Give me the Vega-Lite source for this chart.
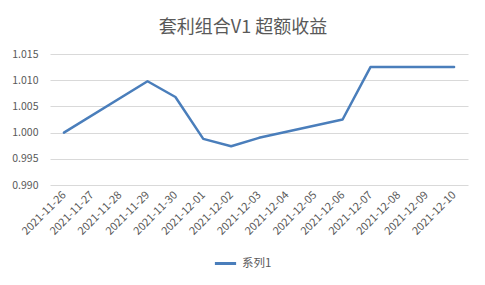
{
  "$schema": "https://vega.github.io/schema/vega-lite/v6.json",
  "width": 418,
  "height": 131,
  "autosize": {"type": "none"},
  "padding": {"left": 50, "top": 54, "right": 17, "bottom": 100},
  "background": "white",
  "title": {
    "text": "套利组合V1 超额收益",
    "anchor": "middle",
    "dx": -16,
    "offset": 12,
    "font": "Noto Sans CJK SC",
    "fontSize": 18,
    "fontWeight": "normal",
    "color": "#595959"
  },
  "data": {
    "values": [
      {"date": "2021-11-26", "value": 1.0000, "series": "系列1"},
      {"date": "2021-11-29", "value": 1.0098, "series": "系列1"},
      {"date": "2021-11-30", "value": 1.0068, "series": "系列1"},
      {"date": "2021-12-01", "value": 0.9988, "series": "系列1"},
      {"date": "2021-12-02", "value": 0.9974, "series": "系列1"},
      {"date": "2021-12-03", "value": 0.9990, "series": "系列1"},
      {"date": "2021-12-06", "value": 1.0025, "series": "系列1"},
      {"date": "2021-12-07", "value": 1.0125, "series": "系列1"},
      {"date": "2021-12-08", "value": 1.0125, "series": "系列1"},
      {"date": "2021-12-09", "value": 1.0125, "series": "系列1"},
      {"date": "2021-12-10", "value": 1.0125, "series": "系列1"}
    ]
  },
  "mark": {"type": "line", "strokeWidth": 2.5, "strokeCap": "round", "strokeJoin": "round"},
  "encoding": {
    "x": {
      "field": "date",
      "type": "ordinal",
      "sort": null,
      "scale": {
        "domain": ["2021-11-26","2021-11-27","2021-11-28","2021-11-29","2021-11-30","2021-12-01","2021-12-02","2021-12-03","2021-12-04","2021-12-05","2021-12-06","2021-12-07","2021-12-08","2021-12-09","2021-12-10"],
        "type": "point",
        "padding": 0.5
      },
      "axis": {
        "title": null,
        "labelAngle": -45,
        "labelAlign": "right",
        "labelBaseline": "middle",
        "labelFont": "Noto Sans CJK SC",
        "labelFontSize": 11,
        "labelColor": "#595959",
        "labelPadding": 8,
        "ticks": false,
        "domain": false,
        "grid": false
      }
    },
    "y": {
      "field": "value",
      "type": "quantitative",
      "scale": {"domain": [0.99, 1.015], "zero": false, "nice": false},
      "axis": {
        "title": null,
        "values": [0.99, 0.995, 1.0, 1.005, 1.01, 1.015],
        "format": ".3f",
        "labelFont": "Noto Sans CJK SC",
        "labelFontSize": 10.5,
        "labelColor": "#595959",
        "labelPadding": 12,
        "ticks": false,
        "domain": false,
        "grid": true,
        "gridColor": "#d9d9d9",
        "gridWidth": 1
      }
    },
    "color": {
      "field": "series",
      "type": "nominal",
      "scale": {"range": ["#4a7ebb"]},
      "legend": {
        "title": null,
        "orient": "none",
        "legendX": 163,
        "legendY": 197,
        "symbolType": "stroke",
        "symbolStrokeWidth": 3,
        "symbolSize": 450,
        "labelFont": "Noto Sans CJK SC",
        "labelFontSize": 11.5,
        "labelColor": "#595959",
        "labelOffset": 4
      }
    }
  },
  "config": {"view": {"stroke": null}}
}
